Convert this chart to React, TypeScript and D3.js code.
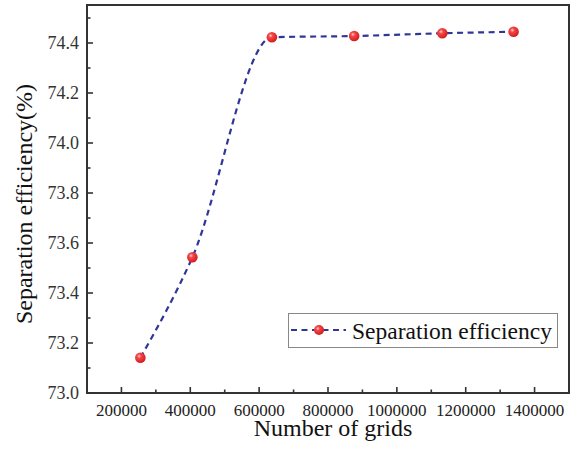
import React from "react";
import * as d3 from "d3";

const gridCounts = [255000, 406000, 637000, 876000, 1132000, 1339000];
const efficiency = [73.141, 73.543, 74.423, 74.428, 74.439, 74.445];
const xTicks = [200000, 400000, 600000, 800000, 1000000, 1200000, 1400000];
const xMinor = [100000, 300000, 500000, 700000, 900000, 1100000, 1300000, 1500000];
const yTicks = [73.0, 73.2, 73.4, 73.6, 73.8, 74.0, 74.2, 74.4];
const yMinor = [73.1, 73.3, 73.5, 73.7, 73.9, 74.1, 74.3, 74.5];
const seriesName = "Separation efficiency";
const xTitle = "Number of grids";
const yTitle = "Separation efficiency(%)";

const W = 574, H = 451;
const L = 87, R = 569, T = 5, B = 393;
const FONT = "'Liberation Serif', 'Times New Roman', serif";
const LINE = "#2f3699";
const AXIS = "#333";

export default function App() {
  const x = d3.scaleLinear().domain([100000, 1500000]).range([L, R]);
  const y = d3.scaleLinear().domain([73.0, 74.552]).range([B, T]);
  const pts: [number, number][] = gridCounts.map((g, i) => [x(g), y(efficiency[i])]);
  const line = d3.line().curve(d3.curveMonotoneX)(pts) || "";

  return (
    <svg width={W} height={H} style={{ position: "absolute", left: 0, top: 0, background: "#fff" }}>
      <defs>
        <radialGradient id="ball" cx="0.38" cy="0.35" r="0.65">
          <stop offset="0" stopColor="#ffd0d0" />
          <stop offset="0.3" stopColor="#f24848" />
          <stop offset="1" stopColor="#d41c1c" />
        </radialGradient>
      </defs>
      <rect x={0} y={0} width={W} height={H} fill="#fff" />
      {/* frame */}
      <rect x={L} y={T} width={R - L} height={B - T} fill="none" stroke={AXIS} strokeWidth={2} />
      {/* x ticks */}
      {xTicks.map((t) => (
        <g key={"xt" + t}>
          <line x1={x(t)} x2={x(t)} y1={B} y2={B - 6} stroke={AXIS} strokeWidth={1.6} />
          <text x={x(t)} y={416} textAnchor="middle" fontFamily={FONT} fontSize={17} fill="#222">{t}</text>
        </g>
      ))}
      {xMinor.map((t) => (
        <line key={"xm" + t} x1={x(t)} x2={x(t)} y1={B} y2={B - 3.5} stroke={AXIS} strokeWidth={1.6} />
      ))}
      {/* y ticks */}
      {yTicks.map((t) => (
        <g key={"yt" + t}>
          <line x1={L} x2={L + 6} y1={y(t)} y2={y(t)} stroke={AXIS} strokeWidth={1.6} />
          <text x={79} y={y(t) + 6} textAnchor="end" fontFamily={FONT} fontSize={18} fill="#333">{t.toFixed(1)}</text>
        </g>
      ))}
      {yMinor.map((t) => (
        <line key={"ym" + t} x1={L} x2={L + 3.5} y1={y(t)} y2={y(t)} stroke={AXIS} strokeWidth={1.6} />
      ))}
      {/* titles */}
      <text x={333} y={436} textAnchor="middle" fontFamily={FONT} fontSize={24} fill="#111">{xTitle}</text>
      <text transform={`translate(32,204) rotate(-90)`} textAnchor="middle" fontFamily={FONT} fontSize={24} fill="#111">{yTitle}</text>
      {/* series */}
      <path d={line} fill="none" stroke={LINE} strokeWidth={2.2} strokeDasharray="6,4.5" />
      {pts.map((p, i) => (
        <circle key={"p" + i} cx={p[0]} cy={p[1]} r={5.3} fill="url(#ball)" />
      ))}
      {/* legend */}
      <rect x={288.5} y={313.5} width={269} height={34} fill="#fff" stroke="#888" strokeWidth={1} />
      <line x1={291} x2={346} y1={330} y2={330} stroke={LINE} strokeWidth={2.2} strokeDasharray="6,4.5" />
      <circle cx={319} cy={330} r={5} fill="url(#ball)" />
      <text x={352} y={339} fontFamily={FONT} fontSize={23.5} fill="#111">{seriesName}</text>
    </svg>
  );
}
